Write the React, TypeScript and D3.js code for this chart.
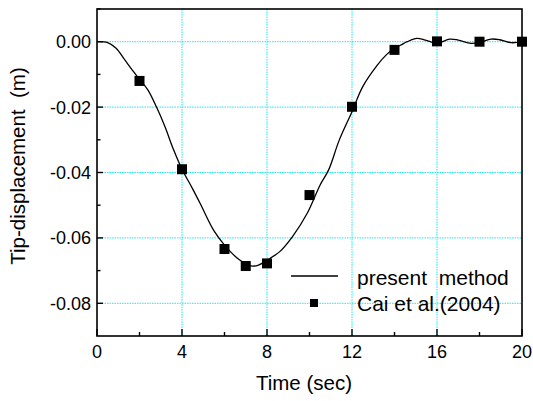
import React from "react";
import * as d3 from "d3";

const curveT = [0, 0.5, 0.9, 1.3, 1.7, 2.0, 2.4, 2.8, 3.2, 3.6, 4.0, 4.5, 4.85, 5.5, 6.0, 6.7, 7.3, 7.6, 8.0, 8.6, 9.2, 9.9, 10.5, 10.9, 11.4, 12.0, 12.5, 13.2, 13.6, 14.0, 14.3, 14.6, 15.05, 15.45, 16.0, 16.6, 17.0, 17.6, 18.0, 18.55, 18.95, 19.5, 20];
const curveY = [0, -0.0003, -0.002, -0.0055, -0.009, -0.0115, -0.0148, -0.02, -0.026, -0.033, -0.039, -0.045, -0.0494, -0.0578, -0.0622, -0.0667, -0.0686, -0.0683, -0.0668, -0.0642, -0.0596, -0.0524, -0.0438, -0.0392, -0.0301, -0.0214, -0.0138, -0.0071, -0.0041, -0.002, -0.001, 0, 0.001, 0.0005, -0.0005, 0.0008, 0.0005, -0.0005, -0.0002, 0.0008, 0.0006, -0.0003, 0];

const caiT = [2, 4, 6, 7, 8, 10, 12, 14, 16, 18, 20];
const caiY = [-0.012, -0.039, -0.0634, -0.0686, -0.0678, -0.0469, -0.0199, -0.0025, 0.0001, 0, 0];

const xMajor = [0, 4, 8, 12, 16, 20];
const xMinor = [2, 6, 10, 14, 18];
const yMajor = [0, -0.02, -0.04, -0.06, -0.08];
const yMinor = [0.01, -0.01, -0.03, -0.05, -0.07];
const xGrid = [4, 8, 12, 16];
const yGrid = [0, -0.02, -0.04, -0.06, -0.08];

const seriesNames = ["present  method", "Cai et al.(2004)"];
const xTitle = "Time (sec)";
const yTitle = "Tip-displacement  (m)";

const W = 533, H = 401;
const L = 97, R = 522, T = 9, B = 336;
const FONT = "Arial, 'Liberation Sans', Helvetica, sans-serif";
const GRID = "#1ee8ee";

export default function App() {
  const x = d3.scaleLinear().domain([0, 20]).range([L, R]);
  const y = d3.scaleLinear().domain([-0.09, 0.01]).range([B, T]);
  const pts: [number, number][] = curveT.map((t, i) => [t, curveY[i]]);
  const line = d3
    .line<[number, number]>()
    .x((d) => x(d[0]))
    .y((d) => y(d[1]))
    .curve(d3.curveCatmullRom.alpha(0.5));
  const ms = 10;
  return (
    <svg width={W} height={H} style={{ position: "absolute", left: 0, top: 0, background: "#fff" }}>
      <rect x={0} y={0} width={W} height={H} fill="#fff" />
      {xGrid.map((g) => (
        <line key={"gx" + g} x1={x(g)} x2={x(g)} y1={T} y2={B} stroke={GRID} strokeWidth={1} strokeDasharray="1.5,1" />
      ))}
      {yGrid.map((g) => (
        <line key={"gy" + g} x1={L} x2={R} y1={y(g)} y2={y(g)} stroke={GRID} strokeWidth={1} strokeDasharray="1.5,1" />
      ))}
      <path d={line(pts) || ""} fill="none" stroke="#000" strokeWidth={1.3} />
      {caiT.map((t, i) => (
        <rect key={"m" + i} x={x(t) - ms / 2} y={y(caiY[i]) - ms / 2} width={ms} height={ms} fill="#000" />
      ))}
      <rect x={L} y={T} width={R - L} height={B - T} fill="none" stroke="#000" strokeWidth={1.6} />
      {xMajor.map((t) => (
        <line key={"xt" + t} x1={x(t)} x2={x(t)} y1={B} y2={B - 7} stroke="#000" strokeWidth={1.4} />
      ))}
      {xMinor.map((t) => (
        <line key={"xm" + t} x1={x(t)} x2={x(t)} y1={B} y2={B - 4} stroke="#000" strokeWidth={1.4} />
      ))}
      {yMajor.map((t) => (
        <line key={"yt" + t} x1={L} x2={L + 6} y1={y(t)} y2={y(t)} stroke="#000" strokeWidth={1.4} />
      ))}
      {yMinor.map((t) => (
        <line key={"ym" + t} x1={L} x2={L + 3.5} y1={y(t)} y2={y(t)} stroke="#000" strokeWidth={1.4} />
      ))}
      {xMajor.map((t) => (
        <text key={"xl" + t} x={x(t)} y={358} textAnchor="middle" fontFamily={FONT} fontSize={18} fill="#000">
          {String(t)}
        </text>
      ))}
      {yMajor.map((t) => (
        <text key={"yl" + t} x={91} y={y(t)} dy="0.36em" textAnchor="end" fontFamily={FONT} fontSize={18} fill="#000">
          {d3.format(".2f")(t).replace("−", "-")}
        </text>
      ))}
      <text x={304} y={390} textAnchor="middle" fontFamily={FONT} fontSize={20.5} fill="#000">
        {xTitle}
      </text>
      <text
        transform={`translate(25,166) rotate(-90)`}
        textAnchor="middle"
        fontFamily={FONT}
        fontSize={20.5}
        fill="#000"
        style={{ whiteSpace: "pre" }}
      >
        {yTitle}
      </text>
      <line x1={291} x2={338} y1={276} y2={276} stroke="#000" strokeWidth={1.4} />
      <text x={357} y={285} fontFamily={FONT} fontSize={21} fill="#000" style={{ whiteSpace: "pre" }}>
        {seriesNames[0]}
      </text>
      <rect x={314 - 4} y={303 - 4} width={8} height={8} fill="#000" />
      <text x={357} y={311} fontFamily={FONT} fontSize={21} fill="#000" style={{ whiteSpace: "pre" }}>
        {seriesNames[1]}
      </text>
    </svg>
  );
}
